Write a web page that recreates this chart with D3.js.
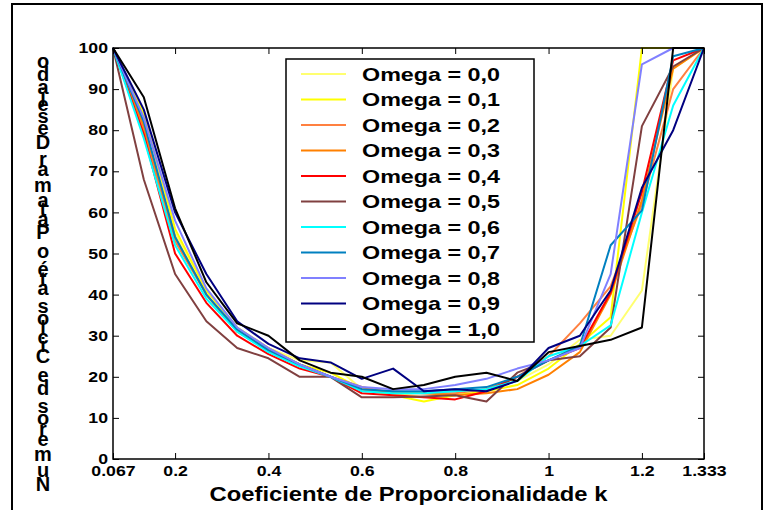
<!DOCTYPE html>
<html>
<head>
<meta charset="utf-8">
<script src="https://cdn.jsdelivr.net/npm/d3@7"></script>
<style>
body { margin: 0; background: #fff; }
svg text { font-family: "Liberation Sans", Arial, sans-serif; font-weight: bold; fill: #000; }
</style>
</head>
<body>
<div id="fig"></div>
<script>
// data: coeficiente k (x) and one series per omega
var kValues = [0.067, 0.133, 0.2, 0.267, 0.333, 0.4, 0.467, 0.533, 0.6, 0.667, 0.733, 0.8, 0.867, 0.933, 1.0, 1.067, 1.133, 1.2, 1.267, 1.333]
var xTicks = [0.067, 0.2, 0.4, 0.6, 0.8, 1, 1.2, 1.333]
var xTickLabels = ["0.067", "0.2", "0.4", "0.6", "0.8", "1", "1.2", "1.333"]
var yTicks = [0, 10, 20, 30, 40, 50, 60, 70, 80, 90, 100]

var omegaLabels = ["Omega = 0,0", "Omega = 0,1", "Omega = 0,2", "Omega = 0,3", "Omega = 0,4", "Omega = 0,5",
	"Omega = 0,6", "Omega = 0,7", "Omega = 0,8", "Omega = 0,9", "Omega = 1,0"]
var omegaColors = ["#ffff70", "#ffff00", "#ff8040", "#ff8000", "#ff0000", "#804040",
	"#00ffff", "#0080c0", "#8080ff", "#000080", "#000000"]

var omega00 = [100, 83, 55, 41, 32, 27, 24, 23.5, 17, 16, 15, 16, 17, 19, 23, 29, 30, 41, 95, 100]
var omega01 = [100, 84, 56, 41, 32, 27, 23, 21, 17, 15.5, 14, 15.5, 16.5, 18, 22, 28, 34.5, 100, 100, 100]
var omega02 = [100, 80, 53, 40, 31, 27, 23, 20, 17, 16.5, 16, 16, 17, 20, 25, 33, 42, 62, 90, 100]
var omega03 = [100, 81, 54, 40, 31, 26.5, 23, 20, 17.5, 16, 16, 15.5, 16, 17, 20.5, 26, 40, 63, 95, 100]
var omega04 = [100, 79, 50, 38, 30, 25.5, 22, 20, 16, 15.5, 15, 14.5, 16.5, 20, 24, 27, 40.5, 65, 97, 100]
var omega05 = [100, 68, 45, 33.5, 27, 24.5, 20, 20, 15, 15, 15.2, 15.5, 14, 21, 24, 25, 32, 81, 95.5, 100]
var omega06 = [100, 78, 52, 39, 31, 26, 22.5, 20, 16.5, 16, 16, 16.5, 17, 19, 25, 27.5, 32.5, 60, 86, 100]
var omega07 = [100, 82, 54, 40, 31.5, 26.5, 23, 20, 17, 16.5, 16.5, 17, 17.5, 20, 24, 27.5, 52, 60.5, 98, 100]
var omega08 = [100, 83, 58, 41.5, 32, 27, 23, 20, 17.5, 17, 17, 18, 19.5, 22, 24, 27, 45, 96, 100, 100]
var omega09 = [100, 85, 60, 45, 33.5, 28, 24.5, 23.5, 19.5, 22, 16.5, 17, 16.5, 19, 27, 30, 41, 66, 80, 100]
var omega10 = [100, 88, 61, 43, 33, 30, 24, 21, 20, 17, 18, 20, 21, 19, 26, 27.5, 29, 32, 100, 100]

var series = [omega00, omega01, omega02, omega03, omega04, omega05, omega06, omega07, omega08, omega09, omega10]

var yLabel = "Numeros de Ciclos até o Patamar Desejado"
var xLabel = "Coeficiente de Proporcionalidade k"

var width = 765
var height = 510
var plot = {left: 113, right: 704, top: 48, bottom: 459}

var svg = d3.select("#fig")
	.append("svg")
	.attr("width", width)
	.attr("height", height)

// outer frame of the figure
svg.append("path")
	.attr("d", "M12,515 L12,4 L762,4 L762,515")
	.attr("fill", "none")
	.attr("stroke", "#000")
	.attr("stroke-width", 2)

var x = d3.scaleLinear().domain([0.067, 1.333]).range([plot.left, plot.right])
var y = d3.scaleLinear().domain([0, 100]).range([plot.bottom, plot.top])

// stretch text horizontally (the original figure is wider than its fonts)
function stretch(sel, f) {
	sel.each(function() {
		var w = this.getComputedTextLength()
		d3.select(this).attr("textLength", w * f).attr("lengthAdjust", "spacingAndGlyphs")
	})
}

// the lines, omega 0,0 first so that 1,0 is on top
var line = d3.line()
	.x(function(d, i) { return x(kValues[i]) })
	.y(function(d) { return y(d) })

svg.selectAll("path.serie")
	.data(series)
	.enter()
	.append("path")
	.attr("class", "serie")
	.attr("d", line)
	.attr("fill", "none")
	.attr("stroke", function(d, i) { return omegaColors[i] })
	.attr("stroke-width", 2)
	.attr("stroke-linejoin", "round")

// axes, ticks pointing inwards
var gLeft = svg.append("g")
	.attr("transform", "translate(" + plot.left + ",0)")
	.call(d3.axisLeft(y).tickValues(yTicks).tickSizeInner(-6).tickSizeOuter(0).tickPadding(5))
var gBottom = svg.append("g")
	.attr("transform", "translate(0," + plot.bottom + ")")
	.call(d3.axisBottom(x).tickValues(xTicks).tickFormat(function(d, i) { return xTickLabels[i] })
		.tickSizeInner(-6).tickSizeOuter(0).tickPadding(7))
svg.append("g")
	.attr("transform", "translate(" + plot.right + ",0)")
	.call(d3.axisRight(y).tickValues(yTicks).tickSizeInner(-6).tickSizeOuter(0).tickFormat(""))
svg.append("g")
	.attr("transform", "translate(0," + plot.top + ")")
	.call(d3.axisTop(x).tickValues(xTicks).tickSizeInner(-6).tickSizeOuter(0).tickFormat(""))

svg.selectAll(".domain").remove()
svg.selectAll(".tick line").attr("stroke", "#000")
svg.selectAll(".tick text")
	.attr("font-family", null)
	.attr("font-size", null)
	.style("font-size", "14.5px")
stretch(gLeft.selectAll(".tick text"), 1.22)
stretch(gBottom.selectAll(".tick text"), 1.22)

svg.append("rect")
	.attr("x", plot.left)
	.attr("y", plot.top)
	.attr("width", plot.right - plot.left)
	.attr("height", plot.bottom - plot.top)
	.attr("fill", "none")
	.attr("stroke", "#000")
	.attr("stroke-width", 1.5)

// x axis title
svg.append("text")
	.attr("x", (plot.left + plot.right) / 2)
	.attr("y", 501)
	.attr("text-anchor", "middle")
	.style("font-size", "19.5px")
	.text(xLabel)
	.call(stretch, 1.22)

// y axis title: upright letters stacked upwards, as in the original export
var yl = svg.append("g")
var chars = yLabel.split("")
var meas = svg.append("text").style("font-size", "20px")
var adv = chars.map(function(c) {
	if (c === " ") {
		meas.text("a a")
		var w1 = meas.node().getComputedTextLength()
		meas.text("aa")
		return w1 - meas.node().getComputedTextLength()
	}
	meas.text(c)
	return meas.node().getComputedTextLength()
})
meas.remove()
var total = d3.sum(adv)
var yBottom = 492, yTop = 55
var k = (yBottom - yTop) / total
var cum = 0
chars.forEach(function(c, i) {
	var yc = yBottom - (cum + adv[i] / 2) * k
	cum += adv[i]
	if (c === " ") return
	yl.append("text")
		.attr("x", 43)
		.attr("y", yc)
		.attr("text-anchor", "middle")
		.attr("dominant-baseline", "central")
		.style("font-size", "20px")
		.text(c)
})

// legend
var legend = svg.append("g")
legend.append("rect")
	.attr("x", 286)
	.attr("y", 59)
	.attr("width", 248)
	.attr("height", 283)
	.attr("fill", "#fff")
	.attr("stroke", "#000")
	.attr("stroke-width", 1.5)

var items = legend.selectAll("g.item")
	.data(omegaLabels)
	.enter()
	.append("g")
	.attr("class", "item")
	.attr("transform", function(d, i) { return "translate(0," + (74 + i * 25.5) + ")" })

items.append("line")
	.attr("x1", 301)
	.attr("x2", 346)
	.attr("stroke", function(d, i) { return omegaColors[i] })
	.attr("stroke-width", 2)

items.append("text")
	.attr("x", 362)
	.attr("y", 6.5)
	.style("font-size", "18.5px")
	.text(function(d) { return d })
	.call(stretch, 1.26)
</script>
</body>
</html>
